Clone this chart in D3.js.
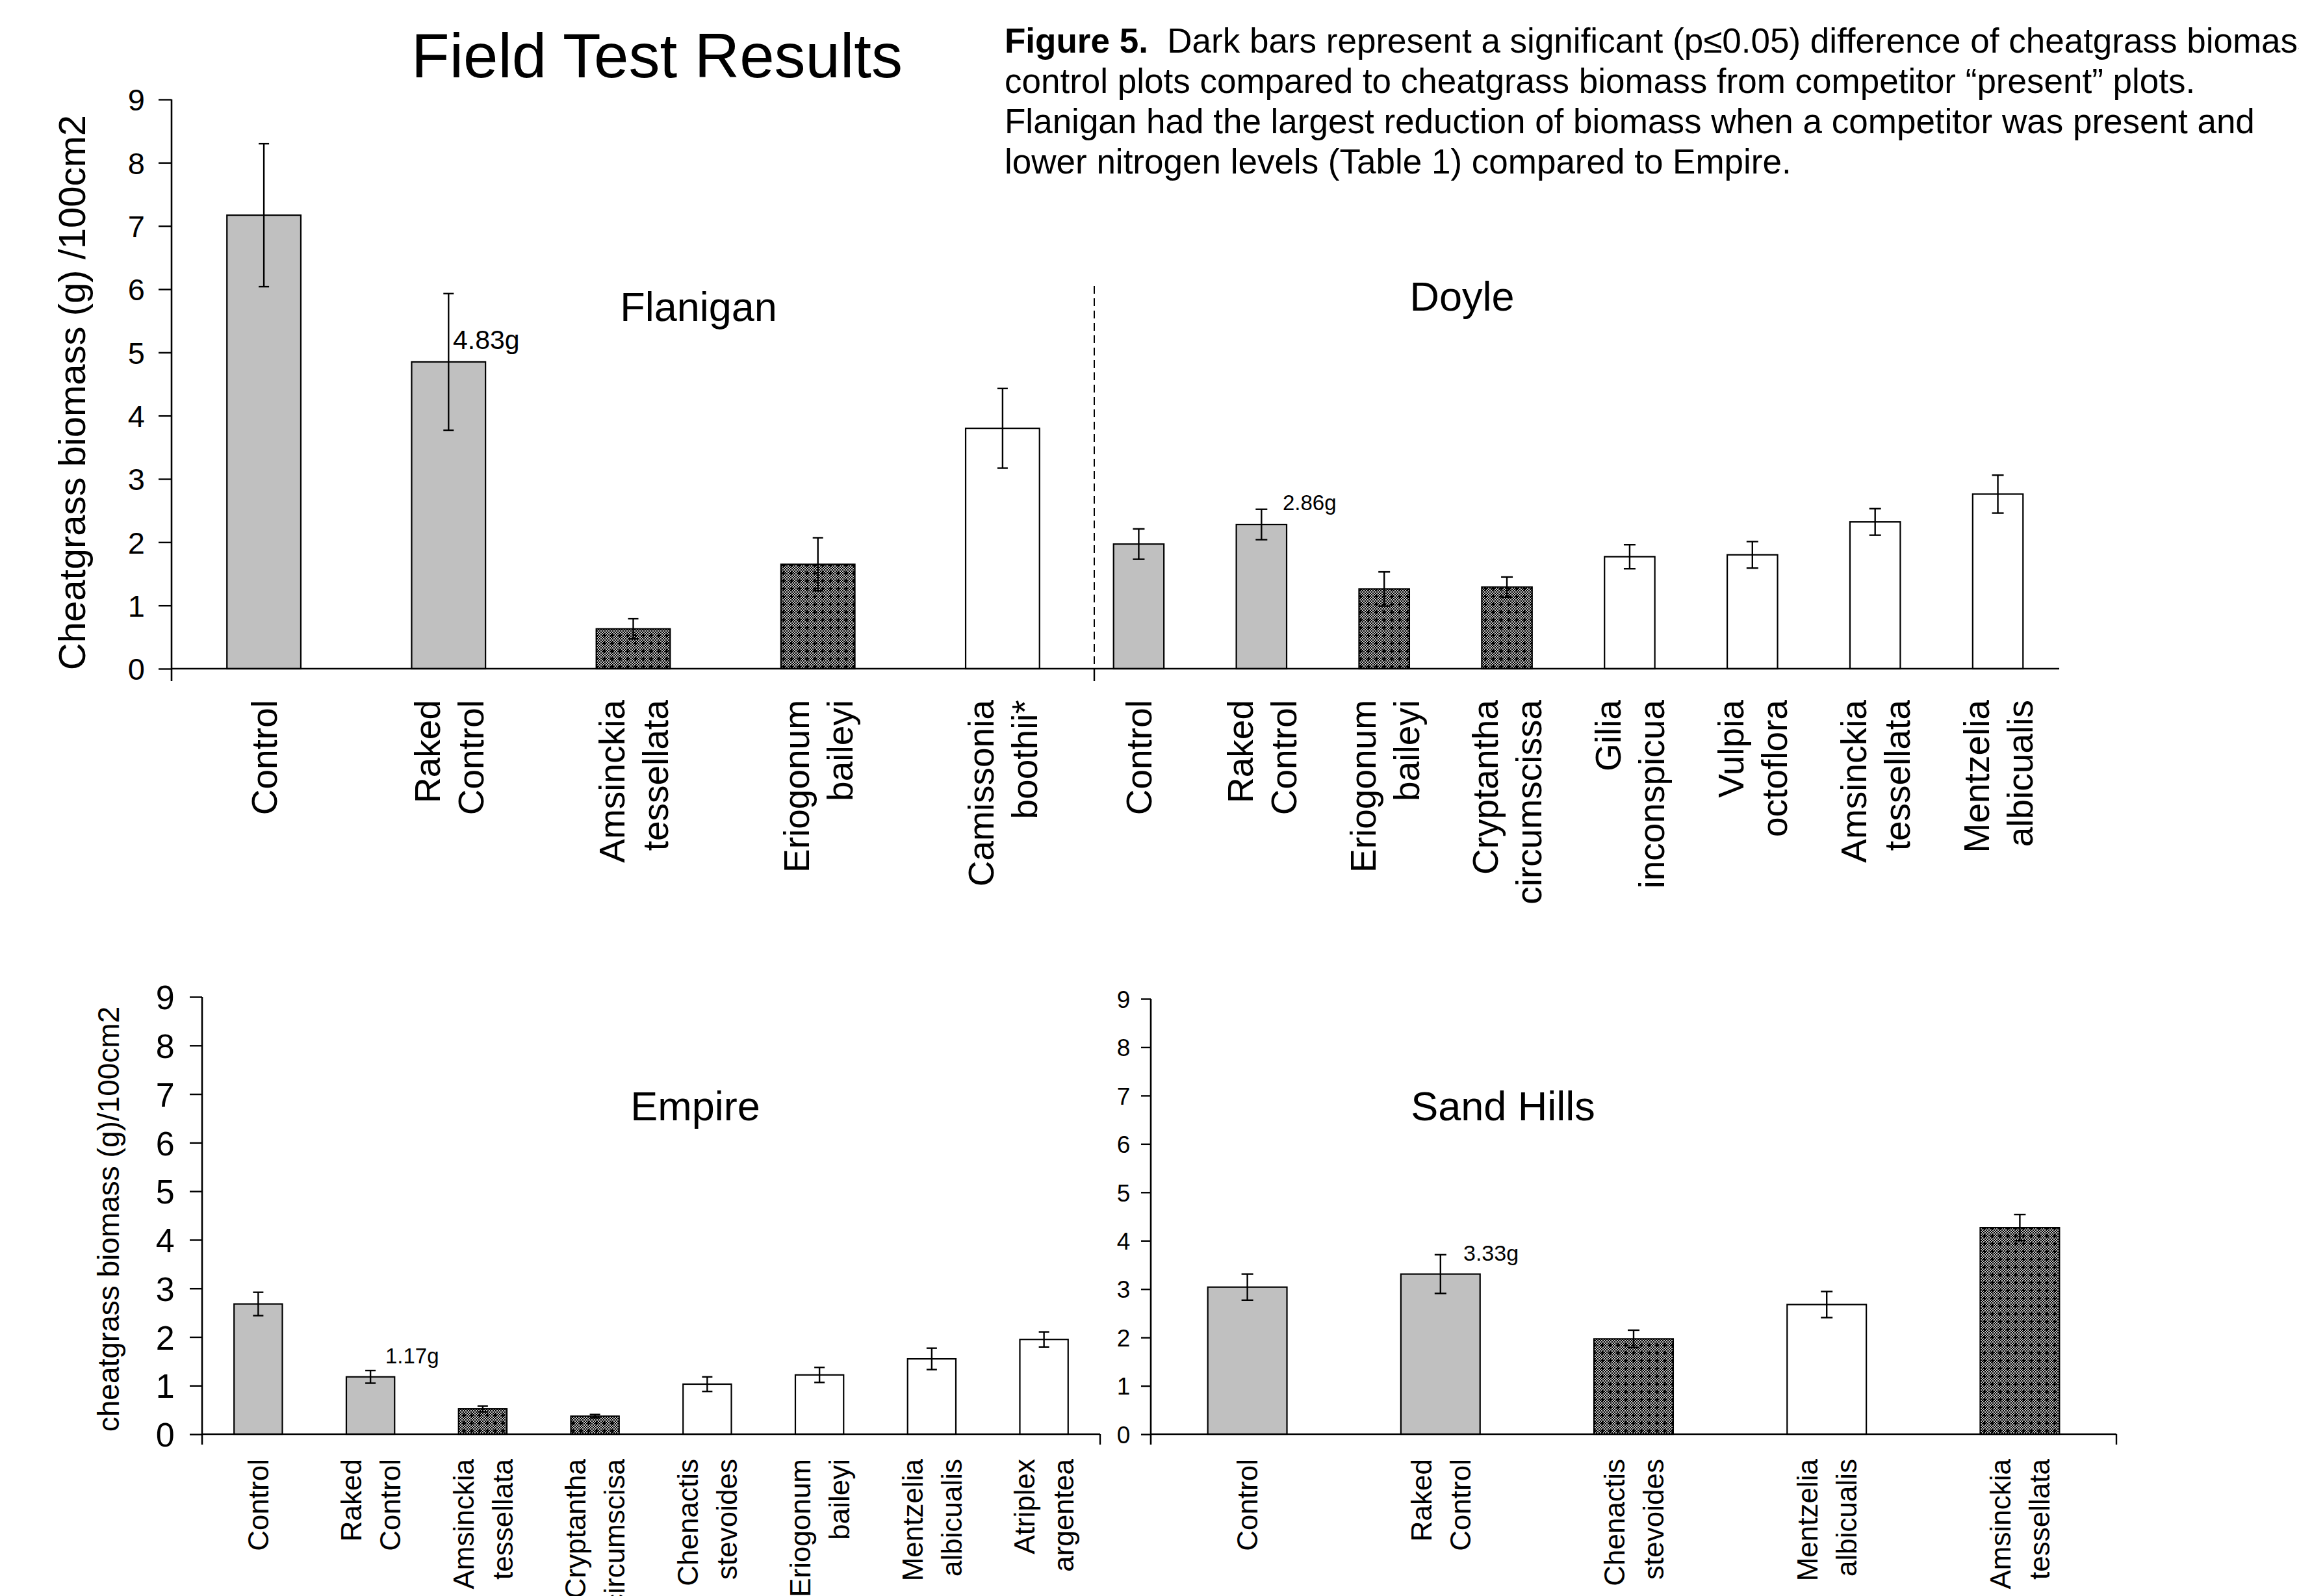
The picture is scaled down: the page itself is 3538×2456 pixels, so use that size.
<!DOCTYPE html>
<html>
<head>
<meta charset="utf-8">
<title>Field Test Results</title>
<script src="https://cdn.jsdelivr.net/npm/d3@7"></script>
<style>
  html, body { margin: 0; padding: 0; background: #fff; }
  svg { display: block; font-family: "Liberation Sans", Arial, sans-serif; }
</style>
</head>
<body>
<div id="chart"></div>
<script>
// ---- data ----
// type: c = control (light grey), d = significant (dark), w = not significant (white)
const flaniganLabels = [["Control"], ["Raked", "Control"], ["Amsinckia", "tessellata"], ["Eriogonum", "baileyi"], ["Camissonia", "boothii*"]];
const flaniganMeans  = [7.17, 4.85, 0.63, 1.65, 3.80];
const flaniganSE     = [1.13, 1.08, 0.16, 0.42, 0.63];
const flaniganType   = ["c", "c", "d", "d", "w"];

const doyleLabels = [["Control"], ["Raked", "Control"], ["Eriogonum", "baileyi"], ["Cryptantha", "circumscissa"], ["Gilia", "inconspicua"], ["Vulpia", "octoflora"], ["Amsinckia", "tessellata"], ["Mentzelia", "albicualis"]];
const doyleMeans  = [1.97, 2.28, 1.26, 1.29, 1.77, 1.80, 2.32, 2.76];
const doyleSE     = [0.24, 0.24, 0.27, 0.16, 0.19, 0.21, 0.21, 0.30];
const doyleType   = ["c", "c", "d", "d", "w", "w", "w", "w"];

const empireLabels = [["Control"], ["Raked", "Control"], ["Amsinckia", "tessellata"], ["Cryptantha", "circumscisa"], ["Chenactis", "stevoides"], ["Eriogonum", "baileyi"], ["Mentzelia", "albicualis"], ["Atriplex", "argentea"]];
const empireMeans  = [2.68, 1.18, 0.52, 0.37, 1.03, 1.22, 1.55, 1.95];
const empireSE     = [0.24, 0.13, 0.06, 0.035, 0.15, 0.155, 0.22, 0.155];
const empireType   = ["c", "c", "d", "d", "w", "w", "w", "w"];

const sandLabels = [["Control"], ["Raked", "Control"], ["Chenactis", "stevoides"], ["Mentzelia", "albicualis"], ["Amsinckia", "tessellata"]];
const sandMeans  = [3.04, 3.31, 1.97, 2.68, 4.27];
const sandSE     = [0.27, 0.40, 0.18, 0.27, 0.27];
const sandType   = ["c", "c", "d", "w", "d"];

const yTicks = [0, 1, 2, 3, 4, 5, 6, 7, 8, 9];
const captionLines = [
  "Dark bars represent a significant (p\u22640.05) difference of cheatgrass biomass",
  "control plots compared to cheatgrass biomass from competitor \u201cpresent\u201d plots.",
  "Flanigan had the largest reduction of biomass when a competitor was present and",
  "lower nitrogen levels (Table 1) compared to Empire."
];

const W = 3538, H = 2456;
const svg = d3.select("#chart").append("svg").attr("width", W).attr("height", H);
svg.append("rect").attr("width", W).attr("height", H).attr("fill", "#fff");

// dark hatch: fine checkerboard with little plus marks
const defs = svg.append("defs");
const chk = defs.append("pattern").attr("id", "chk").attr("width", 4).attr("height", 4).attr("patternUnits", "userSpaceOnUse");
chk.append("rect").attr("width", 4).attr("height", 4).attr("fill", "#c4c4c4");
chk.append("rect").attr("width", 2).attr("height", 2).attr("fill", "#000");
chk.append("rect").attr("x", 2).attr("y", 2).attr("width", 2).attr("height", 2).attr("fill", "#000");
const dark = defs.append("pattern").attr("id", "dark").attr("width", 12).attr("height", 12).attr("patternUnits", "userSpaceOnUse");
dark.append("rect").attr("width", 12).attr("height", 12).attr("fill", "url(#chk)");
dark.append("path").attr("d", "M3,6H9M6,3V9").attr("stroke", "#000").attr("stroke-width", 2);

const fills = { c: "#c0c0c0", d: "url(#dark)", w: "#fff" };

function drawBars(labels, means, se, type, x0, x1, y, opt) {
  const x = d3.scaleBand().domain(d3.range(labels.length)).range([x0, x1])
    .paddingInner(opt.pad).paddingOuter(opt.pad / 2);
  const g = svg.append("g");
  const rows = d3.range(labels.length).map(i => ({ i, m: means[i], e: se[i], t: type[i], l: labels[i] }));

  g.selectAll("rect.bar").data(rows).join("rect")
    .attr("x", d => x(d.i)).attr("width", x.bandwidth())
    .attr("y", d => y(d.m)).attr("height", d => y(0) - y(d.m))
    .attr("fill", d => fills[d.t]).attr("stroke", "#000").attr("stroke-width", 2.2);

  const cx = d => x(d.i) + x.bandwidth() / 2;
  const err = g.selectAll("g.err").data(rows).join("g").attr("stroke", "#000").attr("stroke-width", 2.4);
  err.append("line").attr("x1", cx).attr("x2", cx).attr("y1", d => y(d.m + d.e)).attr("y2", d => y(d.m - d.e));
  err.append("line").attr("x1", d => cx(d) - opt.cap).attr("x2", d => cx(d) + opt.cap)
    .attr("y1", d => y(d.m + d.e)).attr("y2", d => y(d.m + d.e));
  err.append("line").attr("x1", d => cx(d) - opt.cap).attr("x2", d => cx(d) + opt.cap)
    .attr("y1", d => y(d.m - d.e)).attr("y2", d => y(d.m - d.e));

  // rotated two-line category labels
  const lab = g.selectAll("g.lab").data(rows).join("g");
  lab.each(function (d) {
    const n = d.l.length;
    d.l.forEach((s, k) => {
      const lx = cx(d) + (k - (n - 1) / 2) * opt.lineGap;
      d3.select(this).append("text")
        .attr("transform", `translate(${lx},${y(0) + opt.labGap}) rotate(-90)`)
        .attr("dy", "0.36em").attr("text-anchor", "end")
        .attr("font-size", opt.labSize).text(s);
    });
  });
  return x;
}

function drawYAxis(y, xAxis, size, tickLen, below) {
  const g = svg.append("g").attr("transform", `translate(${xAxis},0)`).call(
    d3.axisLeft(y).tickValues(yTicks).tickFormat(d3.format("d")).tickSize(tickLen).tickPadding(size * 0.45)
  );
  g.select(".domain").remove();
  g.selectAll(".tick line").attr("stroke", "#000").attr("stroke-width", 2.4);
  g.selectAll(".tick text").attr("font-size", size).attr("fill", "#000")
    .attr("font-family", "Liberation Sans, Arial, sans-serif").attr("dy", "0.36em");
  svg.append("line").attr("x1", xAxis).attr("x2", xAxis).attr("y1", y(9)).attr("y2", y(0) + below)
    .attr("stroke", "#000").attr("stroke-width", 2.6);
}

// ---- top panel: Flanigan + Doyle ----
const yTop = d3.scaleLinear().domain([0, 9]).range([1029, 153]);
const topOpt = { pad: 0.6, cap: 8, lineGap: 67, labGap: 48, labSize: 55 };
drawBars(flaniganLabels, flaniganMeans, flaniganSE, flaniganType, 264, 1685, yTop, topOpt);
drawBars(doyleLabels, doyleMeans, doyleSE, doyleType, 1658, 3169, yTop, Object.assign({}, topOpt, { pad: 0.59, cap: 9 }));
drawYAxis(yTop, 264, 47, 20, 19);
svg.append("line").attr("x1", 264).attr("x2", 3169).attr("y1", yTop(0)).attr("y2", yTop(0))
  .attr("stroke", "#000").attr("stroke-width", 2.6);
svg.append("line").attr("x1", 1684).attr("x2", 1684).attr("y1", 440).attr("y2", yTop(0))
  .attr("stroke", "#000").attr("stroke-width", 2).attr("stroke-dasharray", "12,7");
svg.append("line").attr("x1", 1684).attr("x2", 1684).attr("y1", yTop(0)).attr("y2", yTop(0) + 19)
  .attr("stroke", "#000").attr("stroke-width", 2.4);

// ---- bottom left: Empire ----
const yEmp = d3.scaleLinear().domain([0, 9]).range([2207, 1534]);
drawBars(empireLabels, empireMeans, empireSE, empireType, 311, 1693, yEmp,
  { pad: 0.57, cap: 8, lineGap: 60, labGap: 38, labSize: 44 });
drawYAxis(yEmp, 311, 52, 19, 16);
svg.append("line").attr("x1", 311).attr("x2", 1693).attr("y1", yEmp(0)).attr("y2", yEmp(0)).attr("stroke", "#000").attr("stroke-width", 2.6);
svg.append("line").attr("x1", 1693).attr("x2", 1693).attr("y1", yEmp(0)).attr("y2", yEmp(0) + 16).attr("stroke", "#000").attr("stroke-width", 2.4);

// ---- bottom right: Sand Hills ----
const ySand = d3.scaleLinear().domain([0, 9]).range([2207, 1537]);
drawBars(sandLabels, sandMeans, sandSE, sandType, 1771, 3257, ySand,
  { pad: 0.59, cap: 9, lineGap: 60, labGap: 38, labSize: 44 });
drawYAxis(ySand, 1771, 37, 15, 16);
svg.append("line").attr("x1", 1771).attr("x2", 3257).attr("y1", ySand(0)).attr("y2", ySand(0)).attr("stroke", "#000").attr("stroke-width", 2.6);
svg.append("line").attr("x1", 3257).attr("x2", 3257).attr("y1", ySand(0)).attr("y2", ySand(0) + 16).attr("stroke", "#000").attr("stroke-width", 2.4);

// ---- texts ----
svg.append("text").attr("x", 1011).attr("y", 119).attr("text-anchor", "middle").attr("font-size", 96).text("Field Test Results");

const cap = svg.append("text").attr("x", 1546).attr("font-size", 53);
captionLines.forEach((s, i) => {
  const t = cap.append("tspan").attr("x", 1546).attr("y", 81 + i * 62);
  if (i === 0) {
    t.append("tspan").attr("font-weight", "bold").text("Figure 5.");
    t.append("tspan").text("\u00a0 " + s);
  } else t.text(s);
});

svg.append("text").attr("transform", "translate(131,604) rotate(-90)").attr("text-anchor", "middle")
  .attr("font-size", 58).text("Cheatgrass biomass (g) /100cm2");
svg.append("text").attr("transform", "translate(183,1876) rotate(-90)").attr("text-anchor", "middle")
  .attr("font-size", 46).text("cheatgrass biomass (g)/100cm2");

const sites = [["Flanigan", 1075, 494], ["Doyle", 2250, 478], ["Empire", 1070, 1724], ["Sand Hills", 2313, 1724]];
sites.forEach(s => svg.append("text").attr("x", s[1]).attr("y", s[2]).attr("text-anchor", "middle").attr("font-size", 63).text(s[0]));

const notes = [["4.83g", 697, 537, 41], ["2.86g", 1974, 785, 33], ["1.17g", 593, 2098, 33], ["3.33g", 2252, 1940, 34]];
notes.forEach(n => svg.append("text").attr("x", n[1]).attr("y", n[2]).attr("font-size", n[3]).text(n[0]));
</script>
</body>
</html>
